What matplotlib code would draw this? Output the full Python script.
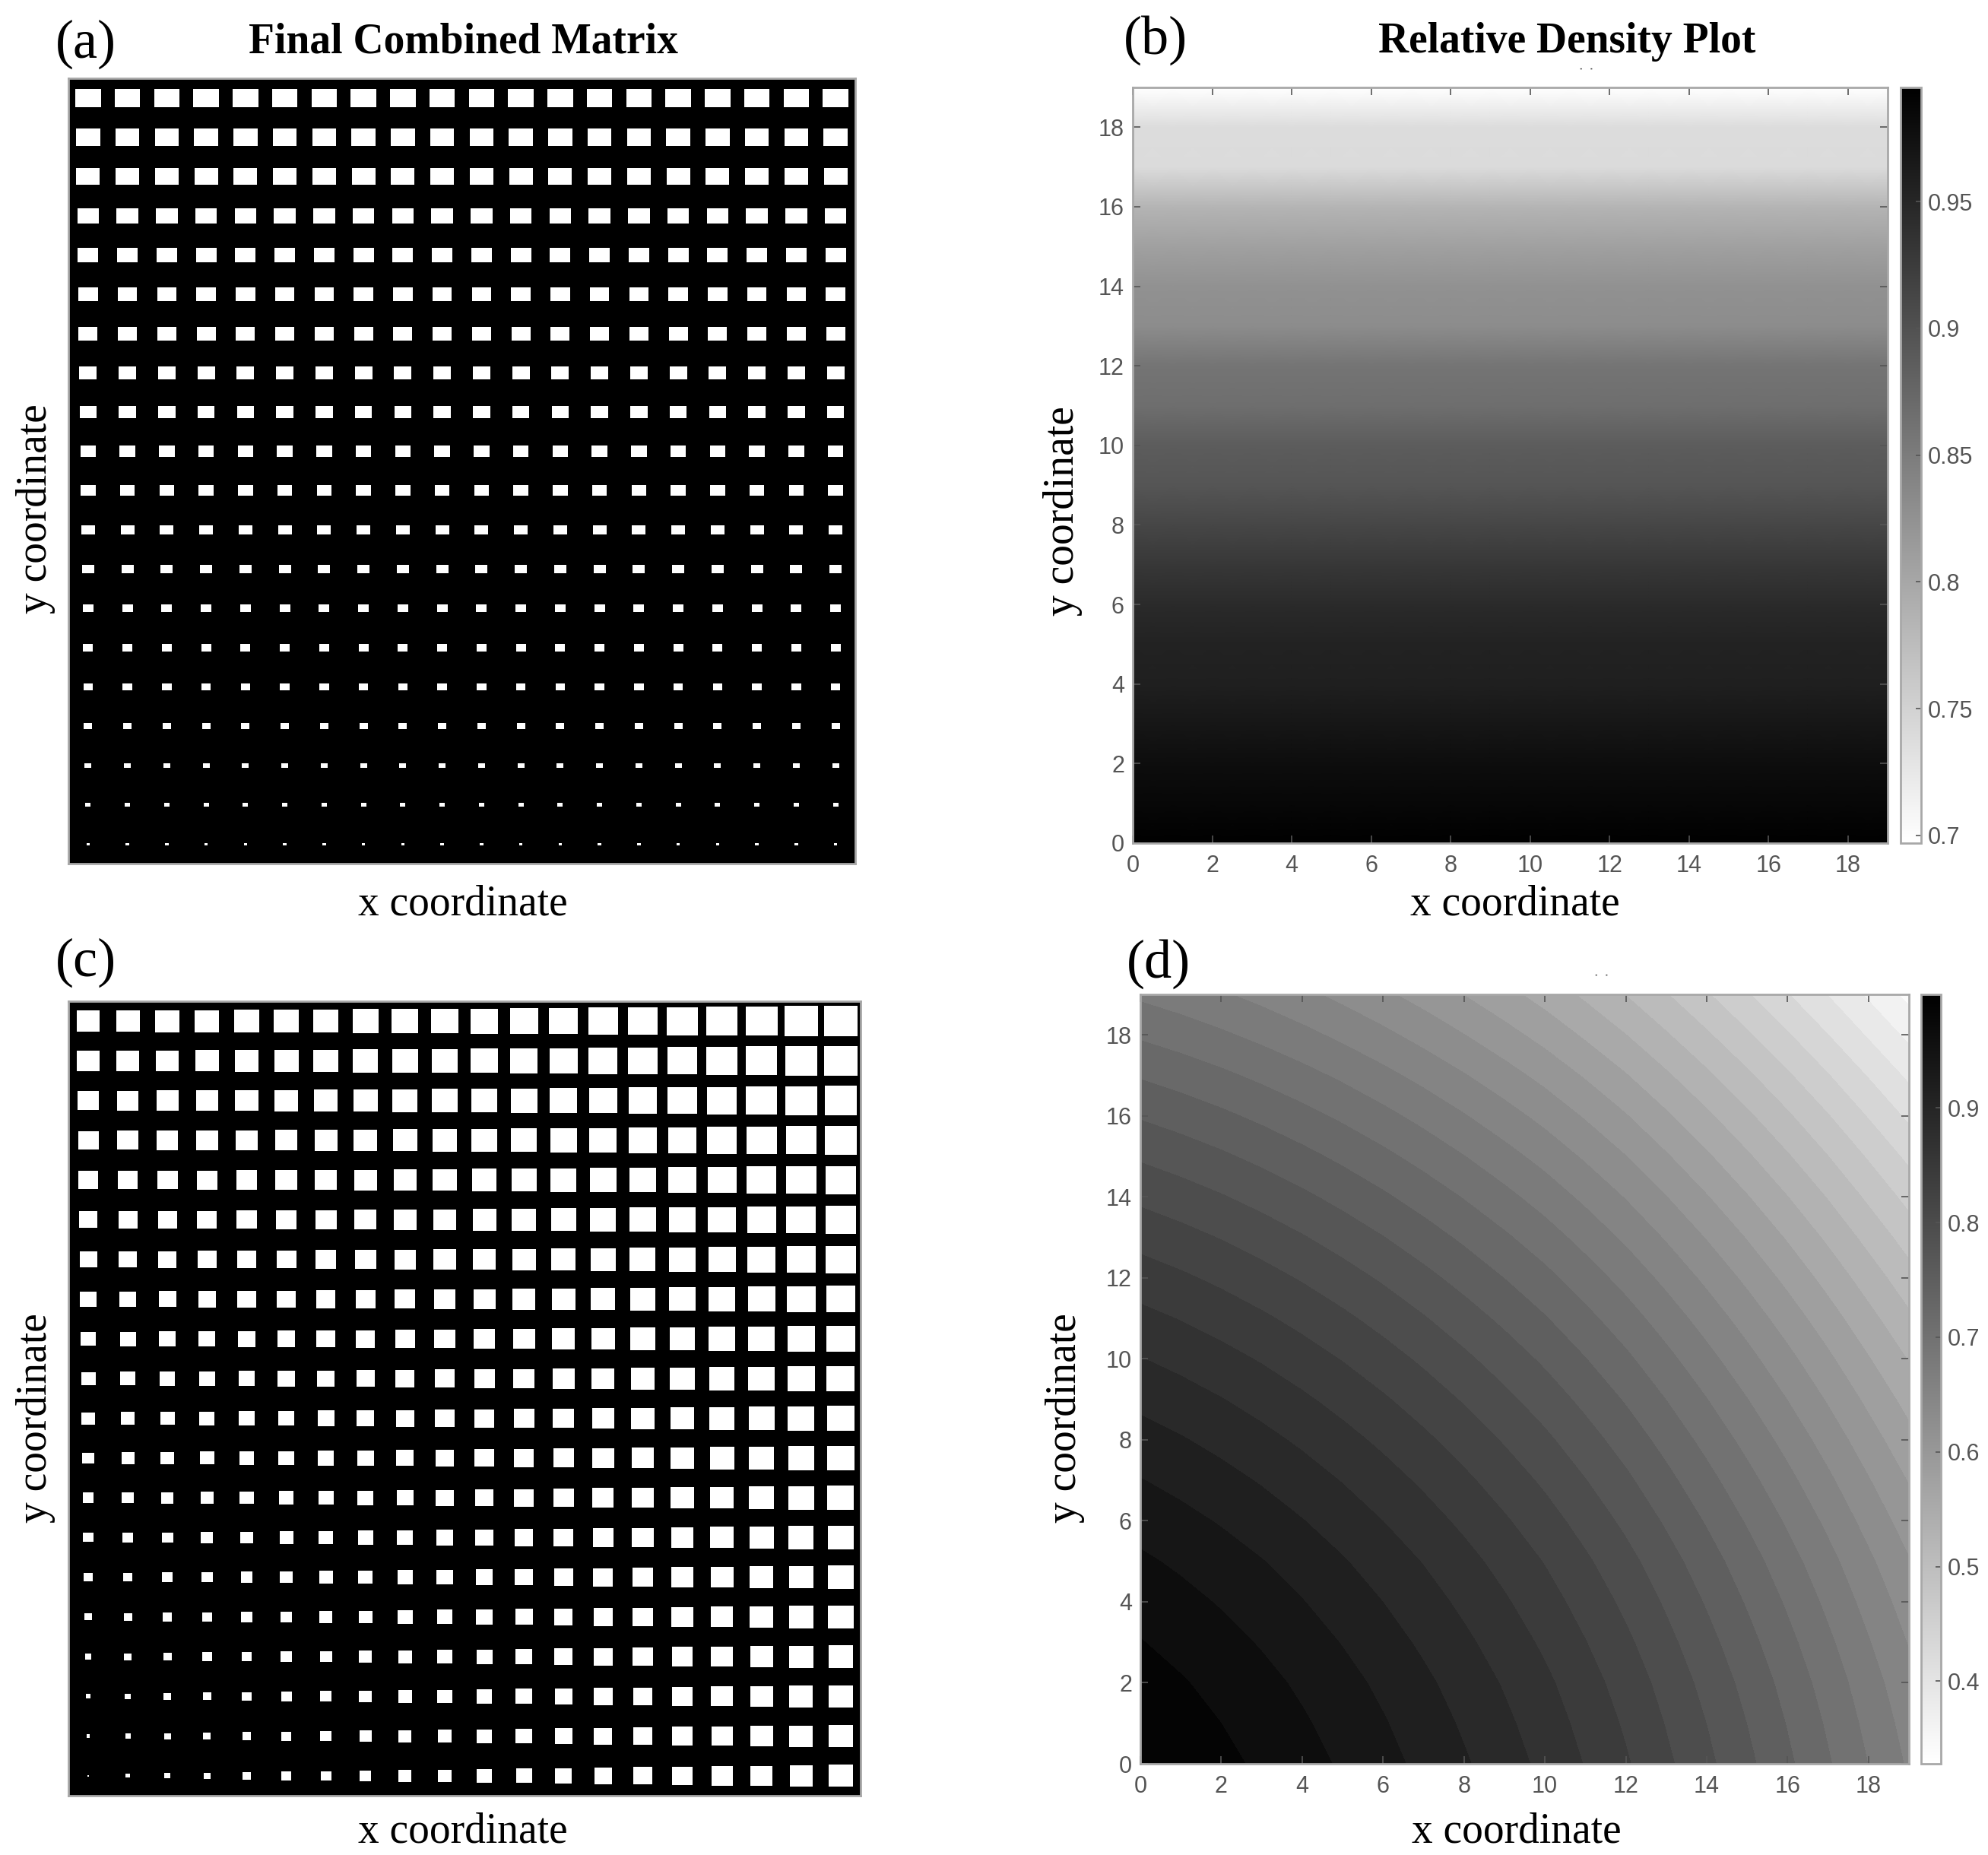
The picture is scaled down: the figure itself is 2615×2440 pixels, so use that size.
import numpy as np
import matplotlib
matplotlib.use('Agg')
import matplotlib.pyplot as plt
from matplotlib.patches import Rectangle
from matplotlib.collections import PatchCollection
from matplotlib.colors import Normalize

# relative density of each lattice row, y = 0..19 (panel b, read from the grey levels)
density_rows = [0.995, 0.986, 0.979, 0.969, 0.958, 0.955, 0.946, 0.930, 0.913, 0.896,
                0.887, 0.866, 0.859, 0.831, 0.826, 0.808, 0.785, 0.740, 0.738, 0.697]

# panel d, density along the bottom edge (y=0, x=0..19) and the left edge (x=0, y=0..19)
density_bottom = [0.998, 0.990, 0.981, 0.971, 0.960, 0.948, 0.935, 0.921, 0.906, 0.890,
                  0.873, 0.854, 0.834, 0.812, 0.789, 0.765, 0.740, 0.714, 0.687, 0.660]
density_left = [0.998, 0.992, 0.985, 0.976, 0.966, 0.955, 0.942, 0.928, 0.913, 0.897,
                0.880, 0.862, 0.843, 0.823, 0.802, 0.780, 0.757, 0.733, 0.708, 0.683]

cbar_b_range = (0.697, 0.995)
cbar_b_ticks = [0.7, 0.75, 0.8, 0.85, 0.9, 0.95]
cbar_d_range = (0.328, 0.999)
cbar_d_ticks = [0.4, 0.5, 0.6, 0.7, 0.8, 0.9]
axis_ticks = list(range(0, 19, 2))

n = len(density_rows)
dens_b = np.tile(np.array(density_rows)[:, None], (1, n))
# combined matrix: voids of the x and y gradings add up
dens_d = np.add.outer(np.array(density_left), np.array(density_bottom)) - density_bottom[0]

W, H = 2615, 2440
fig = plt.figure(figsize=(W / 100, H / 100), dpi=100)


def box(l, t, r, b):
    return [l / W, 1 - b / H, (r - l) / W, (b - t) / H]


def ftext(x, y, s, **kw):
    fig.text(x / W, 1 - y / H, s, ha='center', va='center', **kw)


serif = 'Liberation Serif'
sans = 'Liberation Sans'
tick_col = '#555555'
edge_col = '#a8a8a8'


def lattice(ax, dens, aspect):
    ax.set_facecolor('black')
    rects = []
    for j in range(dens.shape[0]):
        for i in range(dens.shape[1]):
            v = 1 - dens[j, i]
            w = np.sqrt(v * aspect)
            h = np.sqrt(v / aspect)
            rects.append(Rectangle((i + 0.5 - w / 2, j + 0.5 - h / 2), w, h))
    ax.add_collection(PatchCollection(rects, facecolor='white', edgecolor='none'))
    ax.set_xlim(0, dens.shape[1])
    ax.set_ylim(0, dens.shape[0])
    ax.set_xticks([])
    ax.set_yticks([])
    for s in ax.spines.values():
        s.set_color(edge_col)
        s.set_linewidth(2)


def style_map(ax):
    ax.set_xlim(0, n - 1)
    ax.set_ylim(0, n - 1)
    ax.set_xticks(axis_ticks)
    ax.set_yticks(axis_ticks)
    ax.tick_params(direction='in', length=7, width=1.2, colors=tick_col,
                   top=True, right=True, labelsize=22, pad=8)
    ax.tick_params(axis='x', pad=11)
    for lab in ax.get_xticklabels() + ax.get_yticklabels():
        lab.set_fontfamily(sans)
    for s in ax.spines.values():
        s.set_color(edge_col)
        s.set_linewidth(2)


def style_cbar(cb, ticks, labels):
    cb.outline.set_edgecolor(edge_col)
    cb.outline.set_linewidth(2)
    cax = cb.ax
    cax.set_yticks(ticks)
    cax.set_yticklabels(labels, fontfamily=sans)
    cax.tick_params(direction='in', length=5, width=1.2, colors=tick_col,
                    labelsize=22, pad=6)


# (a) lattice graded along y
ax_a = fig.add_axes(box(90, 103, 1125, 1136))
lattice(ax_a, dens_b, 1.4)

# (b) relative density, y grading
ax_b = fig.add_axes(box(1490, 115, 2483, 1109))
X, Y = np.meshgrid(np.arange(n), np.arange(n))
ax_b.pcolormesh(X, Y, dens_b, shading='gouraud', cmap='gray_r',
                vmin=cbar_b_range[0], vmax=cbar_b_range[1])
style_map(ax_b)
cax_b = fig.add_axes(box(2500, 115, 2527, 1109))
sm_b = plt.cm.ScalarMappable(norm=Normalize(*cbar_b_range), cmap='gray_r')
cb_b = fig.colorbar(sm_b, cax=cax_b)
style_cbar(cb_b, cbar_b_ticks, ['0.7', '0.75', '0.8', '0.85', '0.9', '0.95'])

# (c) lattice graded along x and y
ax_c = fig.add_axes(box(90, 1317, 1132, 2362))
lattice(ax_c, dens_d, 1.1)

# (d) relative density, combined grading
ax_d = fig.add_axes(box(1500, 1308, 2511, 2320))
levels = np.linspace(cbar_d_range[0], cbar_d_range[1], 29)
ax_d.contourf(X, Y, dens_d, levels=levels, cmap='gray_r',
              vmin=cbar_d_range[0], vmax=cbar_d_range[1])
style_map(ax_d)
cax_d = fig.add_axes(box(2527, 1308, 2553, 2320))
sm_d = plt.cm.ScalarMappable(norm=Normalize(*cbar_d_range), cmap='gray_r')
cb_d = fig.colorbar(sm_d, cax=cax_d)
style_cbar(cb_d, cbar_d_ticks, [str(t) for t in cbar_d_ticks])

# titles, panel letters, axis labels
ftext(609, 55, 'Final Combined Matrix', fontsize=40, fontweight='bold', family=serif)
ftext(2061, 55, 'Relative Density Plot', fontsize=40, fontweight='bold', family=serif)
for x, y, s in [(113, 58, '(a)'), (1520, 53, '(b)'), (113, 1266, '(c)'), (1524, 1268, '(d)')]:
    ftext(x, y, s, fontsize=52, family=serif)
for x, y in [(609, 1190), (1993, 1190), (609, 2410), (1995, 2410)]:
    ftext(x, y, 'x coordinate', fontsize=40, family=serif)
for x, y in [(47, 669), (1398, 672), (47, 1865), (1401, 1865)]:
    ftext(x, y, 'y coordinate', fontsize=40, family=serif, rotation=90)
# leftover title marks above the colour maps
ftext(2088, 100, '\u02d9 \u02d9', fontsize=16, color='#333333', family=sans)
ftext(2108, 1293, '\u02d9 \u02d9', fontsize=16, color='#333333', family=sans)

fig.savefig('out.png', dpi=100, facecolor='white')
